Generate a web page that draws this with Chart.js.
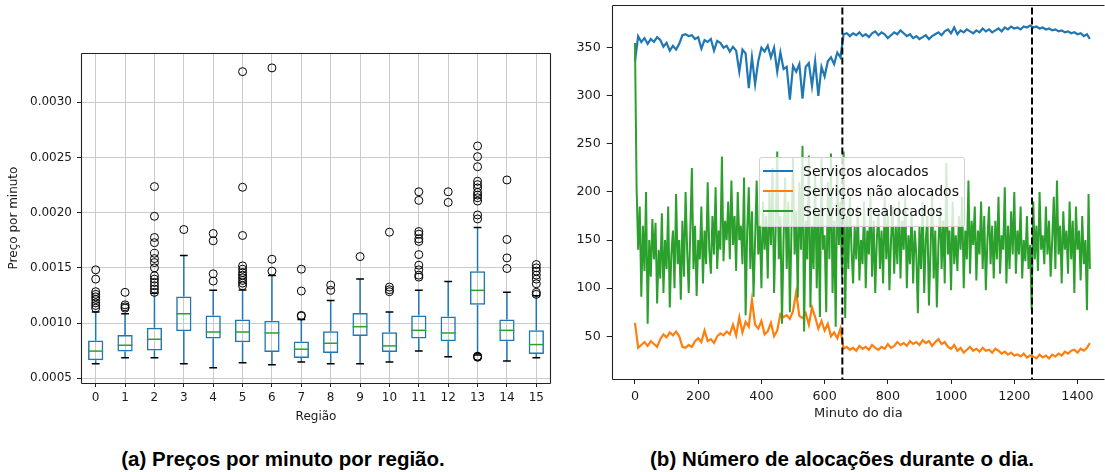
<!DOCTYPE html>
<html><head><meta charset="utf-8">
<script src="https://cdn.jsdelivr.net/npm/chart.js@4.4.1/dist/chart.umd.min.js"></script>
<style>
html,body{margin:0;padding:0;background:#fff;width:1105px;height:472px;overflow:hidden;position:relative;}
#wrapA{position:absolute;left:0;top:0;width:560px;height:430px;}
#wrapB{position:absolute;left:560px;top:0;width:545px;height:430px;}
.cap{position:absolute;top:447px;height:22px;line-height:22px;font:bold 20.5px 'Liberation Sans',Arial,sans-serif;color:#000;white-space:nowrap;text-align:center;}
#legend{position:absolute;left:759px;top:157px;width:204px;height:68px;border:1px solid #d0d0d0;border-radius:3px;background:rgba(255,255,255,0.8);font:14px 'DejaVu Sans',sans-serif;color:#111;}
.item{position:absolute;left:0;height:20px;width:204px;}
.item .ln{position:absolute;left:3px;top:9px;width:30px;height:2px;}
.item .tx{position:absolute;left:43px;top:0;line-height:20px;white-space:nowrap;}
</style></head>
<body>
<div id="wrapA"><canvas id="a" width="560" height="430"></canvas></div>
<div id="wrapB"><canvas id="b" width="545" height="430"></canvas></div>
<div id="legend"></div>
<div class="cap" style="left:83px;width:400px;">(a) Preços por minuto por região.</div>
<div class="cap" style="left:592px;width:500px;">(b) Número de alocações durante o dia.</div>
<script>
// ---------- Left panel: price per minute by region (box plot) ----------
const regions = ['0','1','2','3','4','5','6','7','8','9','10','11','12','13','14','15'];
const q1     = [0.000662,0.000743,0.000751,0.000925,0.000859,0.000826,0.000737,0.000683,0.000728,0.000883,0.000737,0.000859,0.000835,0.001165,0.000835,0.000719];
const median = [0.000746,0.000799,0.000853,0.001084,0.000919,0.000919,0.000910,0.000763,0.000817,0.000967,0.000793,0.000934,0.000910,0.001296,0.000934,0.000805];
const q3     = [0.000841,0.000892,0.000958,0.001240,0.001069,0.001033,0.001021,0.000832,0.000925,0.001090,0.000916,0.001069,0.001060,0.001470,0.001033,0.000934];
const whisLo = [0.000632,0.000686,0.000686,0.000632,0.000596,0.000641,0.000623,0.000647,0.000632,0.000632,0.000647,0.000746,0.000695,0.000710,0.000656,0.000686];
const whisHi = [0.001099,0.001084,0.001270,0.001611,0.001296,0.001300,0.001431,0.001033,0.001204,0.001398,0.001099,0.001296,0.001377,0.001865,0.001278,0.001248];
const outliers = [
  [0.001482,0.001398,0.001284,0.00126,0.001237,0.001213,0.001183,0.001159,0.001135],
  [0.001278,0.001165,0.001147,0.001135],
  [0.002236,0.001967,0.001775,0.001728,0.001632,0.001584,0.001548,0.0015,0.001428,0.001398,0.001368,0.001338,0.001308,0.001278],
  [0.001847],
  [0.001811,0.001745,0.001446,0.00138],
  [0.003277,0.00223,0.001793,0.001518,0.001488,0.001458,0.001434,0.00141,0.001386,0.001362,0.001338],
  [0.003311,0.001578,0.00147],
  [0.001488,0.00129,0.001069,0.001063],
  [0.001344,0.001296],
  [0.001602],
  [0.001823,0.001326,0.001302,0.001284],
  [0.002189,0.002111,0.001829,0.001805,0.001763,0.001739,0.00162,0.001524,0.001482,0.001434,0.001416],
  [0.002189,0.002093],
  [0.002604,0.002507,0.002416,0.002284,0.002254,0.002224,0.002183,0.002159,0.002135,0.002105,0.001979,0.001943,0.000700,0.000695,0.00069],
  [0.002296,0.001757,0.00159,0.001494],
  [0.00153,0.0015,0.00147,0.001434,0.001398,0.001356,0.001278,0.00126]
];
const priceTicks = [0.0005,0.0010,0.0015,0.0020,0.0025,0.0030];

// ---------- Right panel: allocations during the day ----------
const minutes10 = Array.from({length:144},(_,i)=>i*10).concat([1439]);
const minutes5  = Array.from({length:288},(_,i)=>i*5).concat([1439]);
const allocated = [
 336,362,356,360,354,359,356,361,358,351,355,347,
 352,348,354,363,364,362,363,359,361,349,358,356,
 359,347,357,355,350,352,346,351,347,325,348,344,
 308,340,312,336,350,346,352,340,350,325,345,328,
 330,296,331,325,333,297,330,334,310,336,300,330,
 320,336,340,333,345,340,364,365,362,365,363,366,
 362,364,361,365,367,363,366,364,360,363,366,364,
 368,365,362,364,360,362,359,361,363,359,362,364,
 366,363,367,369,365,371,364,368,366,369,367,365,
 368,366,370,367,369,366,368,370,367,371,369,372,
 370,371,369,372,371,373,371,372,370,371,369,370,
 368,369,367,368,366,367,365,366,364,365,362,364,
 359];
const notAllocated = [
 64,38,41,44,40,45,42,39,47,52,49,54,
 51,55,50,39,38,41,39,45,48,44,56,45,
 47,43,50,53,51,55,52,62,51,70,54,65,
 60,88,62,58,66,52,55,64,50,56,73,70,
 72,68,76,96,71,69,74,62,80,70,58,66,
 56,63,50,54,48,58,37,39,36,38,35,40,
 37,39,36,41,38,36,39,37,42,38,40,44,
 41,43,40,45,42,44,41,46,43,45,40,44,
 47,42,44,39,37,41,35,38,33,36,39,35,
 37,34,38,35,36,33,37,35,32,34,31,33,
 30,31,29,32,28,30,29,27,31,28,30,27,
 31,29,32,30,34,32,35,36,33,37,35,38,
 43];
const reallocated = [
 355,205,140,185,91,165,118,200,63,150,112,172,
 130,168,84,140,110,178,95,150,120,185,80,135,
 160,100,198,125,150,88,170,112,200,140,95,160,
 225,120,165,92,150,130,185,105,160,125,210,140,
 115,175,135,205,120,160,140,237,128,170,150,190,
 130,212,145,175,118,200,150,165,125,215,72,160,
 205,120,180,91,150,212,135,165,100,190,140,175,
 110,200,145,225,95,160,242,130,175,63,150,215,
 120,190,75,160,235,135,180,90,210,140,248,55,
 170,130,238,80,165,120,220,100,180,70,235,140,
 155,75,210,130,240,95,170,60,225,145,190,110,
 242,69,175,120,195,140,105,165,130,185,108,150,
 125,190,100,160,135,200,112,170,95,150,180,120,
 160,105,195,130,175,98,150,185,115,165,125,190,
 110,170,140,195,100,155,125,180,105,160,135,74,
 165,120,190,95,150,175,82,140,200,110,160,80,
 145,185,120,170,105,230,135,160,98,190,125,155,
 118,175,140,195,100,160,130,212,115,170,145,185,
 108,160,135,190,120,175,98,150,185,125,165,110,
 170,130,195,115,155,140,205,105,165,120,180,135,
 200,115,160,135,185,110,150,128,175,120,145,78,
 190,130,165,118,200,140,155,125,185,135,170,112,
 150,195,120,212,135,165,105,180,140,160,115,190,
 130,170,95,185,140,160,108,175,125,150,77,198,
 120];
const dayMarks = [656, 1256];
const minuteTicks = [0,200,400,600,800,1000,1200,1400];
const countTicks = [50,100,150,200,250,300,350];
const seriesNames = ['Serviços alocados','Serviços não alocados','Serviços realocados'];
const seriesColors = ['#1f77b4','#ff7f0e','#2ca02c'];

Chart.defaults.font.family = "'DejaVu Sans', sans-serif";
Chart.defaults.color = '#1a1a1a';

const frame = {
  id:'frame',
  afterDatasetsDraw(chart, args, opts){
    const {ctx, chartArea:{left,top,right,bottom}} = chart;
    const L=Math.round(left)+0.5, T=Math.round(top)+0.5, R=Math.round(right)-0.5, B=Math.round(bottom)+0.5;
    ctx.save(); ctx.strokeStyle='#222'; ctx.lineWidth=1.1; ctx.beginPath();
    const s = opts.sides || 'ltrb';
    if (s.includes('l')) { ctx.moveTo(L,T); ctx.lineTo(L,B); }
    if (s.includes('t')) { ctx.moveTo(L,T); ctx.lineTo(R,T); }
    if (s.includes('r')) { ctx.moveTo(R,T); ctx.lineTo(R,B); }
    if (s.includes('b')) { ctx.moveTo(L,B); ctx.lineTo(R,B); }
    ctx.stroke(); ctx.restore();
  }
};
const noPadX = s => { s.paddingLeft = 0; s.paddingRight = 0; };
const noPadY = s => { s.paddingTop = 0; s.paddingBottom = 0; };

// build box-plot datasets
const whiskerPts = [];
const capPts = [];
regions.forEach((r,i)=>{
  whiskerPts.push({x:r,y:q3[i]},{x:r,y:whisHi[i]},{x:r,y:null},{x:r,y:whisLo[i]},{x:r,y:q1[i]},{x:r,y:null});
  capPts.push({x:r,y:whisLo[i]},{x:r,y:whisHi[i]});
});
const medianPts = regions.map((r,i)=>({x:r,y:median[i]}));
const outlierPts = [];
regions.forEach((r,i)=>outliers[i].forEach(v=>outlierPts.push({x:r,y:v})));

new Chart(document.getElementById('a'), {
  type:'bar',
  data:{
    labels: regions,
    datasets:[
      {type:'bar', data: regions.map((r,i)=>[q1[i],q3[i]]), backgroundColor:'rgba(0,0,0,0)', borderColor:'#1f77b4', borderWidth:1.5, borderSkipped:false, barPercentage:0.52, categoryPercentage:1.0, grouped:false, order:3},
      {type:'line', data: whiskerPts, borderColor:'#1f77b4', borderWidth:1.5, pointRadius:0, spanGaps:false, order:4},
      {type:'line', data: capPts, showLine:false, pointStyle:'line', pointRadius:3.9, pointBorderColor:'#000', pointBorderWidth:1.5, order:2},
      {type:'line', data: medianPts, showLine:false, pointStyle:'line', pointRadius:7.4, pointBorderColor:'#2ca02c', pointBorderWidth:1.5, order:1},
      {type:'line', data: outlierPts, showLine:false, pointStyle:'circle', pointRadius:4, pointBorderColor:'#000', pointBackgroundColor:'rgba(0,0,0,0)', pointBorderWidth:1, order:0}
    ]
  },
  options:{
    responsive:false, animation:false, events:[],
    layout:{padding:{left:0,right:9,top:53,bottom:0}},
    plugins:{legend:{display:false}, tooltip:{enabled:false}, frame:{sides:'ltrb'}},
    scales:{
      x:{type:'category', offset:true,
         grid:{offset:false, color:'#cbcbcb', lineWidth:1, tickColor:'#222', tickLength:4},
         border:{display:false},
         ticks:{padding:4, font:{size:12}, maxRotation:0, autoSkip:false},
         title:{display:true, text:'Região', font:{size:12}, padding:{top:0,bottom:6}},
         afterFit(s){ s.height = 47; noPadX(s); }},
      y:{type:'linear', min:0.000457, max:0.003446,
         grid:{color:'#cbcbcb', lineWidth:1, tickColor:'#222', tickLength:4},
         border:{display:false},
         afterBuildTicks(s){ s.ticks = priceTicks.map(v=>({value:v})); },
         ticks:{padding:5, font:{size:12}, callback:v=>Number(v).toFixed(4)},
         title:{display:true, text:'Preço por minuto', font:{size:12}, padding:{top:7,bottom:0}},
         afterFit(s){ s.width = 81; noPadY(s); }}
    }
  },
  plugins:[frame]
});

const xy = (xs, ys) => xs.map((m,i)=>({x:m, y:ys[i]}));
new Chart(document.getElementById('b'), {
  type:'line',
  data:{datasets:[
    {label:seriesNames[0], data: xy(minutes10, allocated), borderColor:seriesColors[0], borderWidth:2.2, order:3},
    {label:seriesNames[1], data: xy(minutes10, notAllocated), borderColor:seriesColors[1], borderWidth:2.2, order:2},
    {label:seriesNames[2], data: xy(minutes5, reallocated), borderColor:seriesColors[2], borderWidth:2.0, order:1},
    ...dayMarks.map(m=>({data:[{x:m,y:0},{x:m,y:400}], borderColor:'#000', borderWidth:2, borderDash:[7,3], order:0}))
  ]},
  options:{
    responsive:false, animation:false, events:[],
    elements:{point:{radius:0}, line:{borderWidth:1.5, tension:0}},
    layout:{padding:{left:0,right:0,top:5,bottom:0}},
    plugins:{legend:{display:false}, tooltip:{enabled:false}, frame:{sides:'ltb'}},
    scales:{
      x:{type:'linear', min:-73.7, max:1487,
         grid:{drawOnChartArea:false, color:'#222', tickColor:'#222', tickLength:5},
         border:{display:false},
         afterBuildTicks(s){ s.ticks = minuteTicks.map(v=>({value:v})); },
         ticks:{font:{size:12.7}, padding:5, maxRotation:0, autoSkip:false, callback:v=>String(v)},
         title:{display:true, text:'Minuto do dia', font:{size:13}, padding:{top:0,bottom:9}},
         afterFit(s){ s.height = 51; noPadX(s); }},
      y:{type:'linear', min:5.6, max:394.4,
         grid:{drawOnChartArea:false, color:'#222', tickColor:'#222', tickLength:5},
         border:{display:false},
         afterBuildTicks(s){ s.ticks = countTicks.map(v=>({value:v})); },
         ticks:{font:{size:12.7}, padding:6, callback:v=>String(v)},
         afterFit(s){ s.width = 51.7; noPadY(s); }}
    }
  },
  plugins:[frame]
});

// legend (matplotlib-style, inside plot area)
const lg = document.getElementById('legend');
seriesNames.forEach((n,i)=>{
  const it = document.createElement('div'); it.className='item'; it.style.top=(3+i*20)+'px';
  it.innerHTML = '<div class="ln" style="background:'+seriesColors[i]+'"></div><div class="tx">'+n+'</div>';
  lg.appendChild(it);
});
</script>
</body></html>
